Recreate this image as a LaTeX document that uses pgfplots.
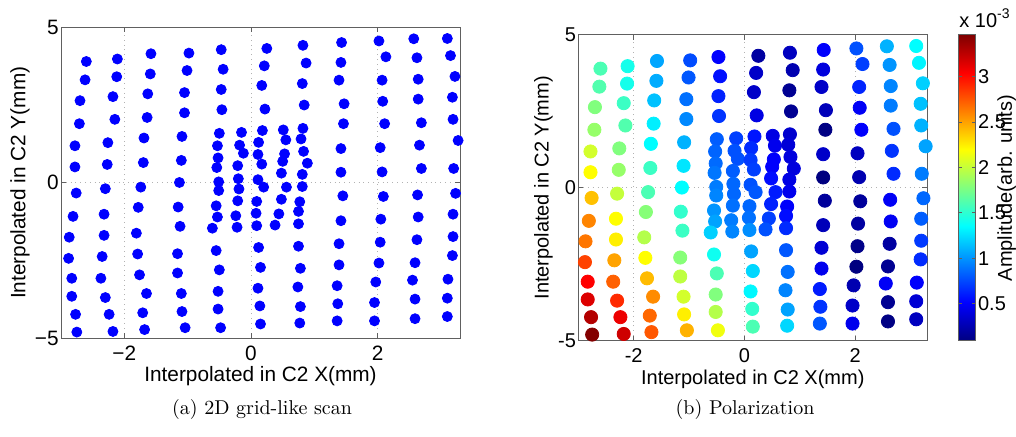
\documentclass[border=0pt]{standalone}
\usepackage{pgfplots}
\pgfplotsset{compat=1.18}
\usepackage{pgfplotstable}
\usepackage{fontspec}
\newfontfamily\arial{Liberation Sans}

\pgfplotstableread{
x y c
-2.60 3.90 1.60
-2.62 3.31 1.62
-2.70 2.64 1.78
-2.71 1.90 1.85
-2.78 1.19 2.05
-2.78 0.51 2.20
-2.76 -0.33 2.40
-2.81 -1.08 2.60
-2.87 -1.75 2.65
-2.88 -2.43 2.82
-2.83 -3.07 3.04
-2.83 -3.65 3.15
-2.77 -4.23 3.29
-2.75 -4.80 3.45
-2.11 3.98 1.42
-2.12 3.41 1.42
-2.18 2.77 1.55
-2.15 2.04 1.62
-2.26 1.29 1.78
-2.27 0.59 1.85
-2.30 -0.19 2.00
-2.32 -1.01 2.20
-2.32 -1.69 2.25
-2.35 -2.37 2.50
-2.37 -3.07 2.72
-2.30 -3.69 2.90
-2.24 -4.23 3.10
-2.18 -4.78 3.20
-1.58 4.15 1.06
-1.59 3.50 1.08
-1.63 2.86 1.15
-1.64 2.10 1.30
-1.69 1.44 1.35
-1.70 0.65 1.55
-1.74 -0.14 1.60
-1.78 -0.79 1.80
-1.81 -1.62 1.95
-1.79 -2.29 2.20
-1.76 -2.96 2.42
-1.65 -3.56 2.58
-1.71 -4.18 2.70
-1.68 -4.72 2.75
-0.98 4.17 0.76
-1.01 3.61 0.80
-1.05 2.90 0.88
-1.05 2.25 0.96
-1.09 1.49 1.10
-1.10 0.72 1.27
-1.13 0.01 1.35
-1.15 -0.78 1.52
-1.12 -1.40 1.55
-1.16 -2.28 1.80
-1.16 -2.90 1.98
-1.10 -3.56 2.05
-1.09 -4.14 2.25
-1.04 -4.66 2.45
-0.47 4.28 0.51
-0.44 3.65 0.56
-0.47 3.00 0.62
-0.46 2.35 0.68
-0.50 1.59 0.82
-0.53 1.19 0.84
-0.52 0.80 0.86
-0.54 0.49 0.90
-0.51 0.03 0.92
-0.51 -0.25 0.95
-0.55 -0.74 1.00
-0.53 -1.10 1.05
-0.61 -1.46 1.20
-0.55 -2.18 1.40
-0.50 -2.80 1.60
-0.52 -3.49 1.78
-0.52 -4.06 1.95
-0.48 -4.66 2.15
-0.15 1.62 0.72
-0.18 1.21 0.78
-0.12 0.95 0.78
-0.21 0.55 0.82
-0.20 0.13 0.85
-0.19 -0.20 0.85
-0.21 -0.58 0.88
-0.24 -1.06 0.92
-0.22 -1.43 0.95
0.25 4.32 0.20
0.21 3.76 0.33
0.17 3.13 0.33
0.22 2.37 0.42
0.18 1.68 0.58
0.12 1.30 0.65
0.11 0.91 0.70
0.17 0.60 0.72
0.11 0.10 0.78
0.20 -0.14 0.80
0.09 -0.60 0.85
0.08 -0.98 0.88
0.09 -1.38 0.98
0.12 -2.08 1.05
0.15 -2.72 1.22
0.11 -3.39 1.33
0.14 -3.96 1.52
0.15 -4.54 1.60
0.51 1.70 0.42
0.55 1.38 0.45
0.53 0.93 0.50
0.50 0.69 0.50
0.48 0.31 0.55
0.56 -0.14 0.60
0.48 -0.53 0.62
0.44 -1.00 0.72
0.38 -1.36 0.78
0.82 4.42 0.30
0.87 3.85 0.25
0.81 3.19 0.15
0.84 2.50 0.15
0.82 1.75 0.35
0.79 1.41 0.38
0.83 1.01 0.40
0.89 0.63 0.40
0.81 0.27 0.42
0.81 -0.12 0.45
0.77 -0.61 0.50
0.75 -0.92 0.55
0.75 -1.32 0.65
0.75 -2.04 0.80
0.78 -2.75 0.88
0.74 -3.35 0.95
0.78 -3.98 1.05
0.77 -4.51 1.22
1.43 4.51 0.50
1.42 3.87 0.40
1.39 3.30 0.33
1.47 2.54 0.28
1.46 1.90 0.10
1.42 1.10 0.33
1.42 0.34 0.09
1.45 -0.42 0.18
1.42 -1.22 0.28
1.39 -1.96 0.37
1.39 -2.64 0.45
1.36 -3.31 0.60
1.37 -3.89 0.68
1.36 -4.44 0.80
2.02 4.56 0.78
2.13 4.05 0.72
2.07 3.30 0.63
2.08 2.62 0.48
2.11 1.90 0.50
2.04 1.13 0.30
2.07 0.35 0.25
2.09 -0.44 0.18
2.05 -1.17 0.20
2.04 -1.91 0.12
2.02 -2.58 0.09
1.97 -3.19 0.25
1.95 -3.85 0.33
1.95 -4.44 0.45
2.57 4.63 1.10
2.62 4.02 1.00
2.64 3.33 0.95
2.64 2.69 0.92
2.69 1.93 0.78
2.66 1.21 0.68
2.69 0.46 0.65
2.63 -0.39 0.48
2.64 -1.10 0.47
2.62 -1.83 0.20
2.59 -2.57 0.15
2.55 -3.13 0.48
2.59 -3.74 0.15
2.59 -4.37 0.10
3.10 4.64 1.35
3.15 4.09 1.32
3.22 3.42 1.20
3.18 2.75 1.15
3.19 2.04 1.10
3.27 1.36 1.05
3.20 0.46 0.92
3.23 -0.34 0.85
3.19 -1.01 0.82
3.19 -1.73 0.70
3.18 -2.34 0.65
3.11 -3.10 0.50
3.10 -3.71 0.37
3.10 -4.30 0.30
}\pts

\pgfplotsset{
  base/.style={
    scale only axis, clip=false,
    xmin=-3, xmax=3.3, ymin=-5, ymax=5,
    xtick={-2,0,2}, ytick={-5,0,5},
    grid=major,
    major grid style={gray!60, dotted, line width=0.5pt},
    axis line style={gray!75!black, line width=0.5pt},
    tick style={gray!75!black, line width=0.5pt},
    tick align=inside, major tick length=2.5pt,
    ticklabel style={font=\fontsize{10.4}{12}\selectfont\arial, inner sep=1pt},
    xticklabel style={yshift=-2.5pt},
    label style={font=\fontsize{10.4}{12}\selectfont\arial, inner sep=0pt},
    xlabel={Interpolated in C2 X(mm)}, ylabel={Interpolated in C2 Y(mm)},
  }
}

\begin{document}
\begin{tikzpicture}
\useasboundingbox (0pt,0pt) rectangle (508pt,218.5pt);

\begin{axis}[base,
  at={(30.5pt,49.35pt)}, anchor=south west,
  width=199.5pt, height=155.5pt,
  xticklabels={−2,0,2}, yticklabels={−5,0,5},
  xlabel style={at={(axis description cs:0.5,-0.121)}, anchor=center},
  ylabel style={at={(axis description cs:-0.103,0.5)}, anchor=center},
]
\addplot[only marks, mark=*, mark size=2.5pt, color=blue, mark options={draw=blue, fill=blue}] table[x=x, y=y] {\pts};
\end{axis}

\begin{axis}[base,
  at={(289.15pt,48.15pt)}, anchor=south west,
  width=174.5pt, height=152.85pt,
  xticklabels={-2,0,2}, yticklabels={-5,0,5},
  ticklabel style={font=\fontsize{10}{12}\selectfont\arial},
  label style={font=\fontsize{10}{12}\selectfont\arial},
  xlabel style={at={(axis description cs:0.5,-0.127)}, anchor=center},
  ylabel style={at={(axis description cs:-0.1,0.5)}, anchor=center},
  colormap/jet, point meta min=0.09, point meta max=3.46,
  colorbar,
  colorbar style={
    scale only axis, width=8.8pt, height=152.85pt,
    at={(parent axis.north east)}, anchor=north west, xshift=6.85pt,
    ytick={0.5,1,1.5,2,2.5,3}, yticklabels={0.5,1,1.5,2,2.5,3},
    yticklabel style={font=\fontsize{10}{12}\selectfont\arial, inner sep=1pt},
    axis line style={gray!75!black, line width=0.5pt},
    tick style={gray!75!black, line width=0.5pt},
    major tick length=2pt,
  },
]
\addplot[scatter, only marks, mark=*, mark size=3.3pt, scatter src=explicit,
  scatter/use mapped color={draw=mapped color, fill=mapped color}]
  table[x=x, y=y, meta=c] {\pts};
\end{axis}

\node[font=\fontsize{10}{12}\selectfont\arial, rotate=90, anchor=center, inner sep=0pt] at (503.3pt,124.5pt) {Amplitude(arb. units)};
\node[font=\fontsize{10}{12}\selectfont\arial, anchor=base west, inner sep=0pt] at (479.5pt,204.5pt) {x 10\raisebox{0.45em}{\fontsize{7}{8}\selectfont -3}};

\node[font=\fontsize{10}{12}\selectfont, anchor=base] at (131pt,11pt) {(a) 2D grid-like scan};
\node[font=\fontsize{10}{12}\selectfont, anchor=base] at (372.5pt,11pt) {(b) Polarization};
\end{tikzpicture}
\end{document}
